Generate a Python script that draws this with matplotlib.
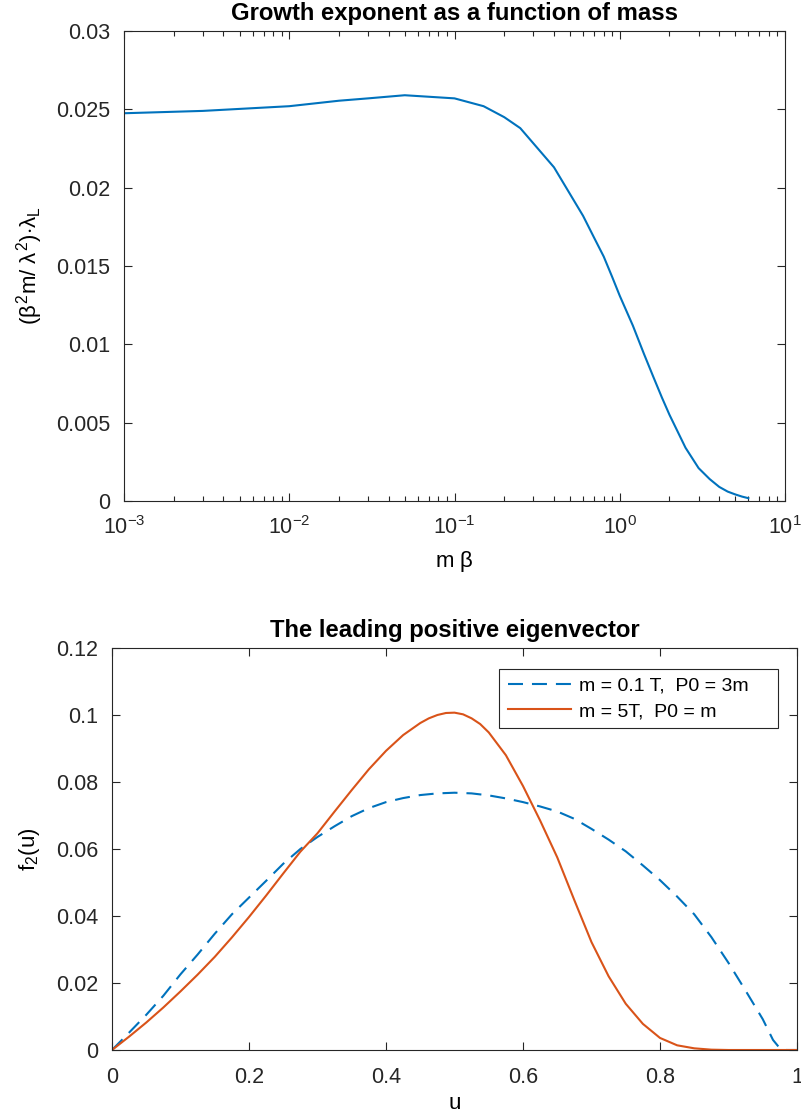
import numpy as np
import matplotlib
matplotlib.use("Agg")
import matplotlib.pyplot as plt
from matplotlib.ticker import FormatStrFormatter, LogLocator

plt.rcParams['font.family'] = ['Liberation Sans', 'DejaVu Sans']
plt.rcParams['mathtext.fontset'] = 'custom'
plt.rcParams['mathtext.rm'] = 'Liberation Sans'
plt.rcParams['mathtext.it'] = 'Liberation Sans'
plt.rcParams['mathtext.bf'] = 'Liberation Sans:bold'
plt.rcParams['axes.unicode_minus'] = False

# growth exponent vs mass
m_beta = [0.001, 0.003, 0.01, 0.02, 0.03, 0.05, 0.1, 0.15, 0.2, 0.25, 0.4,
          0.6, 0.7, 0.8, 0.9, 1.0, 1.2, 1.4, 1.6, 1.8, 2.0, 2.5, 3.0, 3.5,
          4.0, 4.5, 5.0, 5.5, 6.0]
lam = [0.02475, 0.0249, 0.0252, 0.02555, 0.0257, 0.0259, 0.0257, 0.0252,
       0.0245, 0.0238, 0.0213, 0.0182, 0.0168, 0.0156, 0.0143, 0.0131,
       0.0112, 0.0094, 0.0079, 0.0066, 0.0055, 0.0034, 0.0021, 0.0014,
       0.0009, 0.0006, 0.00042, 0.00028, 0.00018]

# leading eigenvectors
u_orange = [0.0, 0.025, 0.05, 0.075, 0.1, 0.125, 0.15, 0.175, 0.2, 0.225,
            0.25, 0.275, 0.3, 0.325, 0.35, 0.375, 0.4, 0.425, 0.45, 0.4625,
            0.475, 0.4875, 0.5, 0.5125, 0.525, 0.5375, 0.55, 0.575, 0.6,
            0.625, 0.65, 0.675, 0.7, 0.725, 0.75, 0.775, 0.8, 0.825, 0.85,
            0.875, 0.9, 1.0]
f_orange = [0.0, 0.0040, 0.0082, 0.0127, 0.0175, 0.0225, 0.0278, 0.0336,
            0.0397, 0.0461, 0.0527, 0.0592, 0.0647, 0.0712, 0.0776, 0.0838,
            0.0893, 0.0940, 0.0976, 0.0990, 0.1000, 0.1006, 0.1007, 0.1002,
            0.0990, 0.0973, 0.0948, 0.0880, 0.0788, 0.0685, 0.0575, 0.0447,
            0.0322, 0.0220, 0.0138, 0.0078, 0.0036, 0.0014, 0.0005, 0.0001,
            0.0, 0.0]

u_blue = [0.0, 0.025, 0.05, 0.075, 0.1, 0.125, 0.15, 0.175, 0.2, 0.225,
          0.25, 0.275, 0.3, 0.325, 0.35, 0.375, 0.4, 0.425, 0.45, 0.475,
          0.5, 0.525, 0.55, 0.575, 0.6, 0.625, 0.65, 0.675, 0.7, 0.725,
          0.75, 0.775, 0.8, 0.825, 0.85, 0.875, 0.9, 0.925, 0.95, 0.965,
          0.975, 0.985, 1.0]
f_blue = [0.0, 0.0052, 0.0105, 0.0162, 0.0226, 0.0285, 0.0347, 0.0405,
          0.0455, 0.0505, 0.0556, 0.0600, 0.0636, 0.0668, 0.0698, 0.0722,
          0.0740, 0.0752, 0.0761, 0.0766, 0.0768, 0.0766, 0.0760, 0.0751,
          0.0740, 0.0727, 0.0712, 0.0690, 0.0660, 0.0628, 0.0593, 0.0551,
          0.0507, 0.0458, 0.0405, 0.0337, 0.0260, 0.0177, 0.0092, 0.0030,
          0.0005, 0.0, 0.0]

blue = "#0072BD"
orange = "#D95319"
axcol = "#262626"
fs = 15.5

fig = plt.figure(figsize=(8.01, 11.14), dpi=100)
ax1 = fig.add_axes([124/801, 1-501/1114, 661/801, 470/1114])
ax2 = fig.add_axes([112/801, 1-1050/1114, 685/801, 402/1114])

for ax in (ax1, ax2):
    for s in ax.spines.values():
        s.set_color(axcol)
        s.set_linewidth(0.8)
    ax.tick_params(which='both', direction='in', top=True, right=True,
                   colors=axcol, labelsize=fs, width=0.8)
    ax.tick_params(which='major', length=6)
    ax.tick_params(which='minor', length=3.5)
    ax.tick_params(axis='y', which='major', pad=10)

# top panel
ax1.plot(m_beta, lam, color=blue, lw=1.5)
ax1.set_xscale('log')
ax1.set_xlim(1e-3, 10)
ax1.set_ylim(0, 0.03)
ax1.xaxis.set_major_locator(LogLocator(base=10, numticks=10))
ax1.xaxis.set_minor_locator(LogLocator(base=10, subs=np.arange(2, 10), numticks=20))
ax1.set_yticks([0, 0.005, 0.01, 0.015, 0.02, 0.025, 0.03])
ax1.yaxis.set_major_formatter(FormatStrFormatter('%g'))
ax1.tick_params(axis='x', which='major', pad=11)
ax1.set_title("Growth exponent as a function of mass", fontsize=17.2,
              fontweight='bold', pad=8)
ax1.set_xlabel(r"m $\beta$", fontsize=16, labelpad=7)
ax1.set_ylabel(r"($\beta^2$m/ $\lambda^2$)$\cdot\lambda_L$", fontsize=16,
               labelpad=8)

# bottom panel
ax2.plot(u_blue, f_blue, color=blue, lw=1.5, linestyle=(0, (7.2, 4.3)),
         label="m = 0.1 T,  P0 = 3m    ")
ax2.plot(u_orange, f_orange, color=orange, lw=1.5, label="m = 5T,  P0 = m")
ax2.set_xlim(0, 1)
ax2.set_ylim(0, 0.12)
ax2.set_xticks([0, 0.2, 0.4, 0.6, 0.8, 1])
ax2.set_yticks([0, 0.02, 0.04, 0.06, 0.08, 0.1, 0.12])
ax2.xaxis.set_major_formatter(FormatStrFormatter('%g'))
ax2.yaxis.set_major_formatter(FormatStrFormatter('%g'))
ax2.tick_params(axis='x', which='major', pad=12)
ax2.set_title("The leading positive eigenvector", fontsize=17.2,
              fontweight='bold', pad=8)
ax2.set_xlabel("u", fontsize=16, labelpad=4)
ax2.set_ylabel(r"f$_2$(u)", fontsize=16, labelpad=10)
leg = ax2.legend(loc='upper right', bbox_to_anchor=(0.972, 0.948),
                 borderaxespad=0, fontsize=14, fancybox=False, framealpha=1,
                 edgecolor=axcol, handlelength=3.25, borderpad=0.42,
                 labelspacing=0.41, handletextpad=0.4)
leg.get_frame().set_linewidth(0.8)

plt.savefig("out.png", dpi=100)
